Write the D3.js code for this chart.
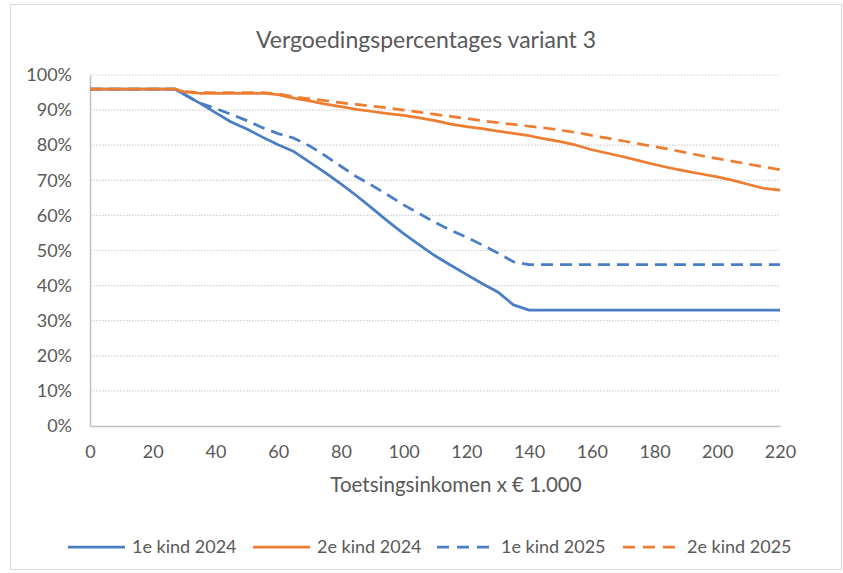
<!DOCTYPE html>
<meta charset="utf-8">
<script src="https://d3js.org/d3.v7.min.js"></script>
<style>
    body { margin: 0; background: #fff; }
    text { font-family: Lato, "Open Sans", sans-serif; }
</style>
<div id="my_dataviz"></div>
<script>
    // data (income x 1000, percentage)
    var incomes = [0, 27, 30, 35, 40, 45, 50, 55, 60, 65, 70, 75, 80, 85, 90, 95, 100, 105, 110, 115, 120,
        125, 130, 135, 140, 145, 150, 155, 160, 165, 170, 175, 180, 185, 190, 195, 200, 205, 210, 215, 220];
    var kind1_2024 = [96, 96, 94.5, 92, 89.3, 86.6, 84.6, 82.3, 80.1, 78.2, 75.2, 72.2, 69, 65.6, 62, 58.3, 54.8, 51.6, 48.5, 45.8, 43.2,
        40.6, 38.2, 34.5, 33, 33, 33, 33, 33, 33, 33, 33, 33, 33, 33, 33, 33, 33, 33, 33, 33];
    var kind2_2024 = [96, 96, 95.2, 94.8, 94.8, 94.8, 94.8, 94.8, 94.4, 93.4, 92.6, 91.7, 91, 90.2, 89.6, 89, 88.5, 87.8, 87, 86, 85.3,
        84.7, 84, 83.4, 82.7, 81.8, 81, 80, 78.7, 77.7, 76.7, 75.6, 74.5, 73.5, 72.6, 71.8, 71, 70, 68.8, 67.7, 67.2];
    var kind1_2025 = [96, 96, 94.5, 92, 90.5, 88.8, 87, 85, 83.3, 82, 79.8, 77, 74, 71, 68.5, 65.8, 63, 60.5, 58, 55.8, 53.8,
        51.6, 49.3, 46.8, 46, 46, 46, 46, 46, 46, 46, 46, 46, 46, 46, 46, 46, 46, 46, 46, 46];
    var kind2_2025 = [96, 96, 95.3, 95, 95, 95, 95, 95, 94.6, 93.8, 93.2, 92.7, 92.1, 91.6, 91.1, 90.6, 90, 89.4, 88.8, 88.2, 87.6,
        87, 86.4, 85.9, 85.4, 84.9, 84.3, 83.6, 82.8, 82, 81.2, 80.4, 79.6, 78.8, 77.9, 77, 76.2, 75.4, 74.6, 73.8, 73];

    var seriesNames = ["1e kind 2024", "2e kind 2024", "1e kind 2025", "2e kind 2025"];
    var seriesValues = [kind1_2024, kind2_2024, kind1_2025, kind2_2025];
    var yTicks = [0, 10, 20, 30, 40, 50, 60, 70, 80, 90, 100];
    var xTicks = [0, 20, 40, 60, 80, 100, 120, 140, 160, 180, 200, 220];

    var W = 843, H = 573;
    var margin = { top: 75, left: 90 },
        width = 690,
        height = 351;

    var blue = "#4a7ec4", orange = "#ed7d31";
    var colors = [blue, orange, blue, orange];
    var dashes = [null, null, "12,7", "12,7"];
    var font = "Lato, 'Open Sans', sans-serif";

    var root = d3.select("#my_dataviz")
        .append("svg")
        .attr("width", W)
        .attr("height", H);

    // chart area border
    root.append("rect")
        .attr("x", 10.5).attr("y", 4.5)
        .attr("width", 831).attr("height", 565)
        .attr("fill", "#fff")
        .attr("stroke", "#d9d9d9");

    // title
    root.append("text")
        .attr("x", 426).attr("y", 48)
        .attr("text-anchor", "middle")
        .style("font-size", "23px")
        .style("fill", "#595959")
        .text("Vergoedingspercentages variant 3");

    var svg = root.append("g")
        .attr("transform", "translate(" + margin.left + "," + margin.top + ")");

    var x = d3.scaleLinear().domain([0, 220]).range([0, width]);
    var y = d3.scaleLinear().domain([0, 100]).range([height, 0]);

    // gridlines (dotted)
    svg.append("g")
        .selectAll("line")
        .data(yTicks.filter(function (d) { return d > 0; }))
        .enter()
        .append("line")
        .attr("x1", 0).attr("x2", width)
        .attr("y1", function (d) { return y(d); })
        .attr("y2", function (d) { return y(d); })
        .attr("stroke", "#d0d0d0")
        .attr("stroke-width", 1.2)
        .style("stroke-dasharray", "1.5,1.5");

    // Y axis
    var yAxis = svg.append("g")
        .call(d3.axisLeft(y).tickValues(yTicks).tickSize(0).tickPadding(18)
            .tickFormat(function (d) { return d + "%"; }));
    yAxis.select(".domain").attr("stroke", "#bfbfbf").attr("stroke-width", 1.5);
    yAxis.selectAll("text").style("font-size", "18px").style("fill", "#595959")
        .style("font-family", font);

    // X axis
    var xAxis = svg.append("g")
        .attr("transform", "translate(0," + height + ")")
        .call(d3.axisBottom(x).tickValues(xTicks).tickSize(0).tickPadding(19));
    xAxis.select(".domain").attr("stroke", "#bfbfbf").attr("stroke-width", 1.5);
    xAxis.selectAll("text").style("font-size", "18px").style("fill", "#595959")
        .style("font-family", font);

    // X axis label
    root.append("text")
        .attr("x", 456).attr("y", 492)
        .attr("text-anchor", "middle")
        .style("font-size", "20.5px")
        .style("fill", "#595959")
        .text("Toetsingsinkomen x \u20AC 1.000");

    // lines
    var line = d3.line()
        .x(function (d) { return x(d[0]); })
        .y(function (d) { return y(d[1]); });

    seriesValues.forEach(function (vals, i) {
        svg.append("path")
            .datum(incomes.map(function (inc, j) { return [inc, vals[j]]; }))
            .attr("fill", "none")
            .attr("stroke", colors[i])
            .attr("stroke-width", 2.75)
            .attr("stroke-linejoin", "round")
            .style("stroke-dasharray", dashes[i]);
    });
    svg.selectAll("path:not(.domain)").attr("d", function (d) { return line(d); });

    // legend
    var legendX = [68, 253, 437, 623];
    var legend = root.append("g");
    seriesNames.forEach(function (name, i) {
        legend.append("line")
            .attr("x1", legendX[i]).attr("x2", legendX[i] + 57)
            .attr("y1", 547).attr("y2", 547)
            .attr("stroke", colors[i])
            .attr("stroke-width", 2.75)
            .style("stroke-dasharray", dashes[i] ? "12,8" : null);
        legend.append("text")
            .attr("x", legendX[i] + 64).attr("y", 547)
            .attr("dy", "0.35em")
            .style("font-size", "18px")
            .style("fill", "#595959")
            .text(name);
    });
</script>
